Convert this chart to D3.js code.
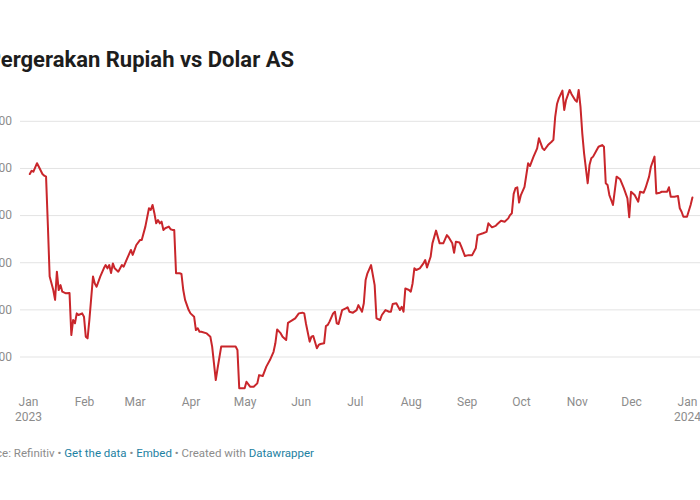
<!DOCTYPE html>
<html>
<head>
<meta charset="utf-8">
<script src="https://cdn.jsdelivr.net/npm/d3@7"></script>
<style>
  html, body { margin: 0; padding: 0; background: #ffffff; }
  svg { display: block; font-family: Roboto, "Noto Sans", "Liberation Sans", sans-serif; }
</style>
</head>
<body>
<svg id="chart" width="700" height="500"></svg>
<script>
// ---------------- DATA ----------------
const title = "Pergerakan Rupiah vs Dolar AS";

const dates = [
"2023-01-02","2023-01-03","2023-01-04","2023-01-06","2023-01-07","2023-01-09","2023-01-10","2023-01-11","2023-01-12","2023-01-13",
"2023-01-15","2023-01-16","2023-01-17","2023-01-18","2023-01-19","2023-01-20","2023-01-22","2023-01-24","2023-01-25","2023-01-26",
"2023-01-27","2023-01-28","2023-01-29","2023-01-31","2023-02-01","2023-02-02","2023-02-03","2023-02-04","2023-02-06","2023-02-07",
"2023-02-08","2023-02-10","2023-02-12","2023-02-13","2023-02-14","2023-02-15","2023-02-16","2023-02-17","2023-02-18","2023-02-20",
"2023-02-22","2023-02-23","2023-02-25","2023-02-27","2023-02-28","2023-03-02","2023-03-04","2023-03-05","2023-03-07","2023-03-09",
"2023-03-10","2023-03-11","2023-03-12","2023-03-13","2023-03-14","2023-03-15","2023-03-16","2023-03-17","2023-03-18","2023-03-20",
"2023-03-21","2023-03-22","2023-03-23","2023-03-24","2023-03-26","2023-03-27","2023-03-28","2023-03-29","2023-03-31","2023-04-01",
"2023-04-03","2023-04-04","2023-04-05","2023-04-06","2023-04-07","2023-04-10","2023-04-12","2023-04-13","2023-04-15","2023-04-16",
"2023-04-18","2023-04-23","2023-04-26","2023-04-27","2023-04-28","2023-05-01","2023-05-02","2023-05-04","2023-05-06","2023-05-08",
"2023-05-09","2023-05-11","2023-05-13","2023-05-15","2023-05-17","2023-05-18","2023-05-19","2023-05-21","2023-05-22","2023-05-24",
"2023-05-25","2023-05-27","2023-05-29","2023-05-31","2023-06-02","2023-06-03","2023-06-04","2023-06-06","2023-06-07","2023-06-08",
"2023-06-10","2023-06-11","2023-06-12","2023-06-14","2023-06-15","2023-06-16","2023-06-17","2023-06-19","2023-06-20","2023-06-21",
"2023-06-22","2023-06-24","2023-06-26","2023-06-27","2023-06-28","2023-06-30","2023-07-02","2023-07-03","2023-07-05","2023-07-06",
"2023-07-07","2023-07-08","2023-07-10","2023-07-12","2023-07-13","2023-07-15","2023-07-16","2023-07-18","2023-07-20","2023-07-21",
"2023-07-22","2023-07-24","2023-07-26","2023-07-27","2023-07-28","2023-07-29","2023-07-31","2023-08-01","2023-08-02","2023-08-03",
"2023-08-04","2023-08-06","2023-08-08","2023-08-09","2023-08-10","2023-08-12","2023-08-13","2023-08-15","2023-08-17","2023-08-19",
"2023-08-21","2023-08-22","2023-08-24","2023-08-25","2023-08-26","2023-08-28","2023-08-29","2023-08-31","2023-09-02","2023-09-04",
"2023-09-06","2023-09-07","2023-09-10","2023-09-12","2023-09-13","2023-09-15","2023-09-17","2023-09-18","2023-09-20","2023-09-22",
"2023-09-24","2023-09-25","2023-09-26","2023-09-27","2023-09-28","2023-09-29","2023-09-30","2023-10-01","2023-10-03","2023-10-05",
"2023-10-06","2023-10-08","2023-10-10","2023-10-11","2023-10-13","2023-10-14","2023-10-16","2023-10-18","2023-10-19","2023-10-20",
"2023-10-21","2023-10-22","2023-10-24","2023-10-25","2023-10-26","2023-10-28","2023-10-29","2023-10-31","2023-11-01","2023-11-02",
"2023-11-03","2023-11-04","2023-11-05","2023-11-07","2023-11-08","2023-11-09","2023-11-10","2023-11-12","2023-11-13","2023-11-15",
"2023-11-16","2023-11-17","2023-11-18","2023-11-19","2023-11-20","2023-11-21","2023-11-23","2023-11-25","2023-11-27","2023-11-29",
"2023-11-30","2023-12-01","2023-12-03","2023-12-05","2023-12-06","2023-12-08","2023-12-09","2023-12-11","2023-12-12","2023-12-14",
"2023-12-15","2023-12-17","2023-12-18","2023-12-21","2023-12-22","2023-12-23","2023-12-25","2023-12-27","2023-12-28","2023-12-29",
"2023-12-30","2024-01-01","2024-01-03","2024-01-04"
];

const rupiah = [
15574,15588,15584,15620,15605,15574,15567,15563,15358,15139,
15082,15040,15160,15082,15103,15075,15068,15069,14891,14955,
14941,14983,14976,14983,14969,14884,14877,14955,15139,15110,
15096,15139,15174,15188,15174,15188,15154,15195,15174,15160,
15188,15181,15217,15252,15231,15273,15294,15294,15351,15429,
15422,15443,15408,15365,15379,15365,15372,15337,15344,15351,
15340,15337,15337,15153,15153,15150,15082,15040,14997,14983,
14969,14912,14920,14905,14905,14898,14884,14842,14700,14750,
14842,14842,14842,14828,14665,14665,14693,14672,14672,14686,
14721,14717,14757,14785,14820,14856,14915,14898,14884,14870,
14943,14952,14962,14983,14986,14983,14938,14863,14884,14887,
14835,14849,14853,14856,14929,14934,14948,14983,14990,14941,
14938,14997,15004,15009,14990,14986,14997,15018,14990,15026,
15125,15153,15188,15103,14962,14955,14976,14997,14990,14990,
15023,15026,14997,15011,14990,15089,15082,15075,15110,15174,
15167,15174,15195,15209,15178,15223,15280,15334,15280,15280,
15315,15306,15280,15240,15287,15284,15266,15226,15230,15230,
15259,15315,15323,15329,15365,15348,15354,15362,15376,15372,
15386,15400,15408,15490,15514,15518,15453,15485,15520,15620,
15608,15648,15683,15726,15683,15676,15697,15711,15719,15817,
15871,15895,15928,15846,15888,15931,15914,15888,15881,15931,
15860,15747,15662,15535,15612,15641,15648,15676,15690,15697,
15690,15535,15528,15485,15464,15443,15563,15552,15514,15471,
15391,15499,15485,15457,15499,15495,15514,15563,15605,15648,
15492,15495,15499,15499,15518,15478,15478,15481,15429,15414,
15393,15393,15443,15475
];

const yTicks = [14800, 15000, 15200, 15400, 15600, 15800];
const xTickDates = ["2023-01-01","2023-02-01","2023-03-01","2023-04-01","2023-05-01","2023-06-01",
                    "2023-07-01","2023-08-01","2023-09-01","2023-10-01","2023-11-01","2023-12-01","2024-01-01"];
const monthNames = ["Jan","Feb","Mar","Apr","May","Jun","Jul","Aug","Sep","Oct","Nov","Dec","Jan"];
const yearNames = ["2023","","","","","","","","","","","","2024"];

const footerParts = [
  {t: "Source: Refinitiv \u2022 ", link: false},
  {t: "Get the data", link: true},
  {t: " \u2022 ", link: false},
  {t: "Embed", link: true},
  {t: " \u2022 Created with ", link: false},
  {t: "Datawrapper", link: true}
];

// ---------------- CHART ----------------
const parse = d3.utcParse("%Y-%m-%d");
const series = dates.map((d, i) => ({date: parse(d), value: rupiah[i]}));

const svg = d3.select("#chart");
svg.append("rect").attr("width", 700).attr("height", 500).attr("fill", "#ffffff");

const x = d3.scaleUtc()
  .domain([parse("2023-01-01"), parse("2024-01-01")])
  .range([28, 687]);

const y = d3.scaleLinear()
  .domain([14800, 15800])
  .range([356.5, 120.8]);

// title
svg.append("text")
  .attr("x", 294).attr("y", 67)
  .attr("text-anchor", "end")
  .attr("font-size", 22).attr("font-weight", 700)
  .attr("fill", "#1d1d1d")
  .text(title);

// y axis with gridlines
const fmt = d => d3.format(",")(d).replace(/,/g, ".");
const yAxis = svg.append("g")
  .attr("transform", "translate(20,0)")
  .call(d3.axisLeft(y).tickValues(yTicks).tickSize(-680).tickPadding(8).tickFormat(fmt));
yAxis.select(".domain").remove();
yAxis.selectAll(".tick line").attr("stroke", "#e3e3e3").attr("stroke-width", 1);
yAxis.selectAll(".tick text")
  .attr("fill", "#8c8c8c").attr("font-size", 12)
  .attr("font-family", "Roboto, 'Noto Sans', sans-serif");

// x axis labels
const xAxis = svg.append("g")
  .attr("transform", "translate(0,394)")
  .call(d3.axisBottom(x).tickValues(xTickDates.map(parse)).tickSize(0).tickPadding(0)
    .tickFormat((d, i) => monthNames[i]));
xAxis.select(".domain").remove();
xAxis.selectAll(".tick text")
  .attr("fill", "#8c8c8c").attr("font-size", 12)
  .attr("font-family", "Roboto, 'Noto Sans', sans-serif")
  .attr("dy", 0).attr("y", 12)
  .each(function(d, i) {
    if (yearNames[i]) {
      d3.select(this).append("tspan")
        .attr("x", 0).attr("dy", 15).text(yearNames[i]);
    }
  });

// line
const line = d3.line()
  .x(d => x(d.date))
  .y(d => y(d.value));

svg.append("path")
  .datum(series)
  .attr("fill", "none")
  .attr("stroke", "#c9262b")
  .attr("stroke-width", 2)
  .attr("stroke-linejoin", "round")
  .attr("stroke-linecap", "round")
  .attr("d", line);

// footer
const footer = svg.append("text")
  .attr("x", 314).attr("y", 457)
  .attr("text-anchor", "end")
  .attr("font-size", 11.5)
  .attr("fill", "#8c8c8c");
footer.selectAll("tspan")
  .data(footerParts)
  .enter().append("tspan")
  .attr("fill", d => d.link ? "#1d81a2" : "#8c8c8c")
  .text(d => d.t);
</script>
</body>
</html>
